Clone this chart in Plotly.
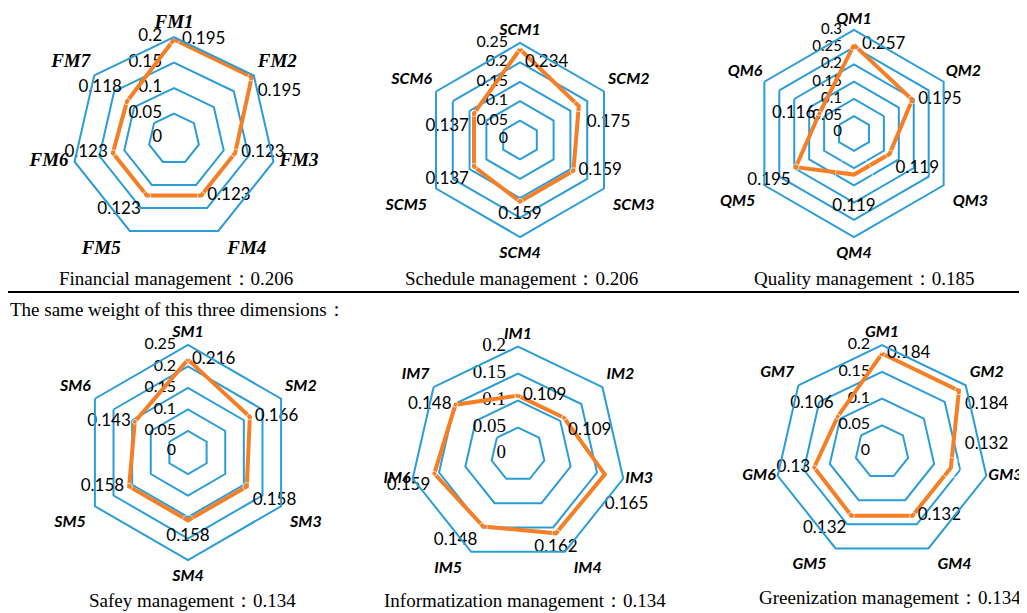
import plotly.graph_objects as go

W, H = 1027, 613          # browser window
OFF = 8                   # default page margin around the plot div
FW, FH = W - OFF, H - OFF  # figure size so that it fills the window

# ---------------- data ----------------
fm_cats = ["FM1", "FM2", "FM3", "FM4", "FM5", "FM6", "FM7"]
fm_vals = [0.195, 0.195, 0.123, 0.123, 0.123, 0.123, 0.118]
fm_ticks = [0, 0.05, 0.1, 0.15, 0.2]

scm_cats = ["SCM1", "SCM2", "SCM3", "SCM4", "SCM5", "SCM6"]
scm_vals = [0.234, 0.175, 0.159, 0.159, 0.137, 0.137]
scm_ticks = [0, 0.05, 0.1, 0.15, 0.2, 0.25]

qm_cats = ["QM1", "QM2", "QM3", "QM4", "QM5", "QM6"]
qm_vals = [0.257, 0.195, 0.119, 0.119, 0.195, 0.116]
qm_ticks = [0, 0.05, 0.1, 0.15, 0.2, 0.25, 0.3]

sm_cats = ["SM1", "SM2", "SM3", "SM4", "SM5", "SM6"]
sm_vals = [0.216, 0.166, 0.158, 0.158, 0.158, 0.143]
sm_ticks = [0, 0.05, 0.1, 0.15, 0.2, 0.25]

im_cats = ["IM1", "IM2", "IM3", "IM4", "IM5", "IM6", "IM7"]
im_vals = [0.109, 0.109, 0.165, 0.162, 0.148, 0.159, 0.148]
im_ticks = [0, 0.05, 0.1, 0.15, 0.2]

gm_cats = ["GM1", "GM2", "GM3", "GM4", "GM5", "GM6", "GM7"]
gm_vals = [0.184, 0.184, 0.132, 0.132, 0.132, 0.13, 0.106]
gm_ticks = [0, 0.05, 0.1, 0.15, 0.2]

dim_names = ["Financial management", "Schedule management", "Quality management",
             "Safey management", "Informatization management", "Greenization management"]
dim_weights = ["0.206", "0.206", "0.185", "0.134", "0.134", "0.134"]
note_text = "The same weight of this three dimensions："

# ---------------- styling / layout ----------------
BLUE = "#2A9DD8"
ORANGE = "#F47F27"
SERIF = "Liberation Serif, Times New Roman, serif"
SANS = "Lato, Liberation Sans, sans-serif"

HEPT_POS = ["top center", "top right", "middle right", "bottom right", "bottom left", "middle left", "top left"]
HEX_POS = ["top center", "top right", "bottom right", "bottom center", "bottom left", "top left"]


def px_x(x):
    return (x - OFF) / FW


def px_y(y):
    return 1 - (y - OFF) / FH


def gap_to_size(g):
    """invisible marker diameter that makes plotly offset a text label by ~g px"""
    return max(0.0, (g - 1) * 0.8 * 2)


charts = [
    dict(cats=fm_cats, vals=fm_vals, ticks=fm_ticks, c=(174, 139, 102),
         catfont=SERIF, catsize=19, cattop=4, catmid=6, tickfont=SANS, ticksize=17, catpos=HEPT_POS,
         pos=["middle right", "bottom right", "middle right", "middle right", "bottom left", "middle left", "top left"],
         gap=[8, 6, 6, 6, 6, 5, 5], push=[""] * 7),
    dict(cats=scm_cats, vals=scm_vals, ticks=scm_ticks, c=(520, 140, 97),
         catfont=SANS, catsize=16, cattop=4, catmid=2, tickfont=SANS, ticksize=16, catpos=HEX_POS,
         pos=["bottom right", "bottom right", "middle right", "bottom center", "bottom left", "bottom left"],
         gap=[5, 8, 5, 5, 5, 5], push=[""] * 6),
    dict(cats=qm_cats, vals=qm_vals, ticks=qm_ticks, c=(854, 133.5, 103.5),
         catfont=SANS, catsize=16, cattop=2, catmid=2, tickfont=SANS, ticksize=15, catpos=HEX_POS,
         pos=["middle right", "middle right", "bottom right", "bottom center", "bottom left", "middle left"],
         gap=[8, 6, 6, 24, 5, 4], push=[""] * 6),
    dict(cats=sm_cats, vals=sm_vals, ticks=sm_ticks, c=(188, 452.5, 107.5),
         catfont=SANS, catsize=16, cattop=4, catmid=2, tickfont=SANS, ticksize=16, catpos=HEX_POS,
         pos=["middle right", "middle right", "bottom right", "bottom center", "middle left", "middle left"],
         gap=[4, 5, 6, 8, 5, 4], push=[""] * 6),
    dict(cats=im_cats, vals=im_vals, ticks=im_ticks, c=(518, 454.5, 108),
         catfont=SANS, catsize=16, cattop=4, catmid=2, tickfont=SERIF, ticksize=19, catpos=HEPT_POS,
         pos=["middle right", "bottom right", "bottom right", "bottom center", "bottom left", "bottom left", "middle left"],
         gap=[5, 4, 1, 6, 6, 4, 4], push=["", "", "down", "", "", "", ""]),
    dict(cats=gm_cats, vals=gm_vals, ticks=gm_ticks, c=(882, 452, 107),
         catfont=SANS, catsize=16, cattop=4, catmid=2, tickfont=SANS, ticksize=16, catpos=HEPT_POS,
         pos=["middle right", "bottom right", "top right", "middle right", "bottom left", "middle left", "top left"],
         gap=[5, 6, 14, 5, 5, 4, 4], push=[""] * 7),
]

title_pos = [(176, 278), (521, 278), (864, 278), (192, 600), (525, 600), (890, 597)]


def fmt(v):
    return f"{v:g}"


fig = go.Figure()
layout_polars = {}
for i, ch in enumerate(charts):
    name = "polar" if i == 0 else f"polar{i+1}"
    cats, vals, ticks = ch["cats"], ch["vals"], ch["ticks"]
    rmax = ticks[-1]

    # radial tick labels (left of the vertical axis); the centre label is nudged
    # off the exact pole, where plotly hides points of polygon-shaped polars
    fig.add_trace(go.Scatterpolar(
        r=[t if t > 0 else rmax * 0.01 for t in ticks], theta=[cats[0]] * len(ticks),
        mode="markers+text",
        text=[fmt(t) for t in ticks], textposition="middle left",
        marker=dict(size=gap_to_size(12), color="rgba(0,0,0,0)"),
        textfont=dict(family=ch["tickfont"], size=ch["ticksize"], color="black"),
        subplot=name, showlegend=False, hoverinfo="skip", cliponaxis=False,
    ))

    # category labels at the outer ring
    cgap = [ch["cattop"] if p.startswith("top") else (ch["catmid"] if p.startswith("middle") else 9)
            for p in ch["catpos"]]
    fig.add_trace(go.Scatterpolar(
        r=[rmax] * len(cats), theta=cats, mode="markers+text",
        text=cats, textposition=ch["catpos"],
        marker=dict(size=[gap_to_size(g) for g in cgap], color="rgba(0,0,0,0)"),
        textfont=dict(family=ch["catfont"], size=ch["catsize"], color="black",
                      weight="bold", style="italic"),
        subplot=name, showlegend=False, hoverinfo="skip", cliponaxis=False,
    ))

    # data series line
    fig.add_trace(go.Scatterpolar(
        r=vals + [vals[0]], theta=cats + [cats[0]], mode="lines",
        line=dict(color=ORANGE, width=4),
        subplot=name, showlegend=False, hoverinfo="skip", cliponaxis=False,
    ))
    # data value labels
    labels = []
    for v, p in zip(vals, ch["push"]):
        s = fmt(v)
        labels.append("<br>" + s if p == "down" else (s + "<br>" if p == "up" else s))
    fig.add_trace(go.Scatterpolar(
        r=vals, theta=cats, mode="markers+text",
        text=labels, textposition=ch["pos"],
        marker=dict(size=[gap_to_size(g) for g in ch["gap"]], color="rgba(0,0,0,0)"),
        textfont=dict(family=SANS, size=17, color="black"),
        subplot=name, showlegend=False, hoverinfo="skip", cliponaxis=False,
    ))

    cx, cy, r = ch["c"]
    layout_polars[name] = dict(
        domain=dict(x=[px_x(cx - r), px_x(cx + r)], y=[px_y(cy + r), px_y(cy - r)]),
        gridshape="linear",
        bgcolor="rgba(0,0,0,0)",
        radialaxis=dict(range=[0, rmax], tickvals=ticks[1:], angle=90, showline=False, ticks="",
                        showticklabels=False, gridcolor=BLUE, gridwidth=2),
        angularaxis=dict(rotation=90, direction="clockwise", showgrid=False, ticks="",
                         showticklabels=False, linecolor=BLUE, linewidth=2),
    )

annotations = []
for (x, y), nm, wt in zip(title_pos, dim_names, dim_weights):
    annotations.append(dict(x=px_x(x), y=px_y(y), xref="paper", yref="paper",
                            xanchor="center", yanchor="middle",
                            text=f"{nm}：{wt}", showarrow=False,
                            font=dict(family=SERIF, size=19, color="black")))
annotations.append(dict(x=px_x(8), y=px_y(309), xref="paper", yref="paper",
                        xanchor="left", yanchor="middle",
                        text=note_text, showarrow=False,
                        font=dict(family=SERIF, size=19, color="black")))

fig.update_layout(
    width=FW, height=FH,
    margin=dict(l=0, r=0, t=0, b=0),
    paper_bgcolor="white", plot_bgcolor="white",
    annotations=annotations,
    shapes=[dict(type="line", xref="paper", yref="paper", x0=0, x1=1,
                 y0=px_y(292), y1=px_y(292), line=dict(color="black", width=2))],
    **layout_polars,
)

fig.write_html("out.html")
